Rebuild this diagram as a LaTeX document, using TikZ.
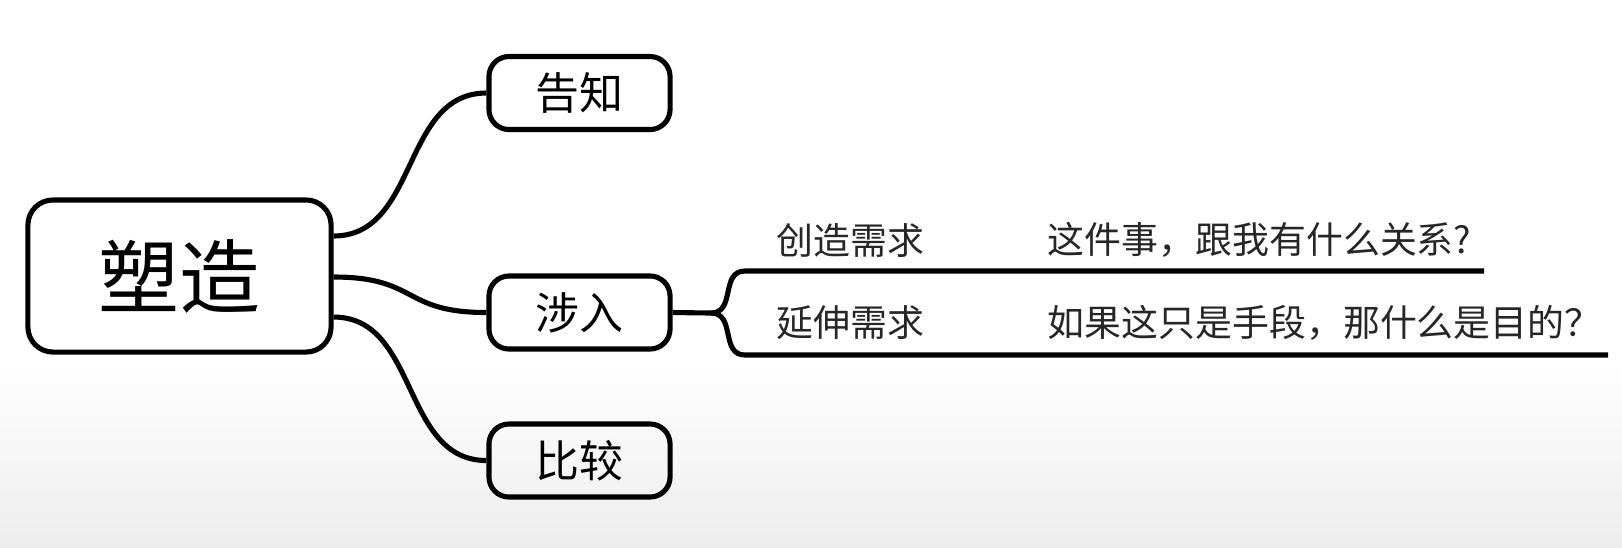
\documentclass[tikz,border=0pt]{standalone}
\usepackage{fontspec}
\newfontfamily\cjk{Noto Sans CJK SC}
\begin{document}
\begin{tikzpicture}[x=0.01cm, y=-0.01cm,
  box/.style={draw, line width=1.45pt, rounded corners=0.2cm, inner sep=0pt,
    minimum width=1.81cm, minimum height=0.73cm, font=\cjk\fontsize{12.5}{14}\selectfont},
  branch/.style={line width=1.45pt},
  leaf/.style={anchor=west, inner sep=0pt, text=black!85, font=\cjk\fontsize{10.5}{12}\selectfont}]
\useasboundingbox (0,0) rectangle (1622,547);
\shade[top color=white, bottom color=gray!14] (0,360) rectangle (1622,547);
% boxes
\node[box, minimum width=3.03cm, minimum height=1.52cm, rounded corners=0.25cm,
  font=\cjk\fontsize{23}{26}\selectfont] (shape) at (179.5,276) {塑造};
\node[box] (inform) at (579.5,93) {告知};
\node[box] (involve) at (579.5,312.5) {涉入};
\node[box] (compare) at (579.5,460.5) {比较};
\draw[branch] ([yshift=0.4cm]shape.east) .. controls +(85,0) and +(-85,0) .. (inform.west);
\draw[branch] ([yshift=-0.01cm]shape.east) .. controls +(85,0) and +(-85,0) .. (involve.west);
\draw[branch] ([yshift=-0.41cm]shape.east) .. controls +(85,0) and +(-85,0) .. (compare.west);
% fork after involve
\coordinate (fork) at (711,313);
\coordinate (up) at (745,271);
\coordinate (upend) at (1484,271);
\coordinate (down) at (745,355);
\coordinate (downend) at (1608,355);
\draw[branch] (involve.east) -- (fork);
\draw[branch] (fork) .. controls +(25,0) and +(-25,0) .. (up) -- (upend);
\draw[branch] (fork) .. controls +(25,0) and +(-25,0) .. (down) -- (downend);
\node[leaf] (create) at (776,240) {创造需求};
\node[leaf] (whyme) at (1047,240) {这件事，跟我有什么关系?};
\node[leaf] (extend) at (776,323) {延伸需求};
\node[leaf] (goal) at (1047,323) {如果这只是手段，那什么是目的？};
\end{tikzpicture}
\end{document}
